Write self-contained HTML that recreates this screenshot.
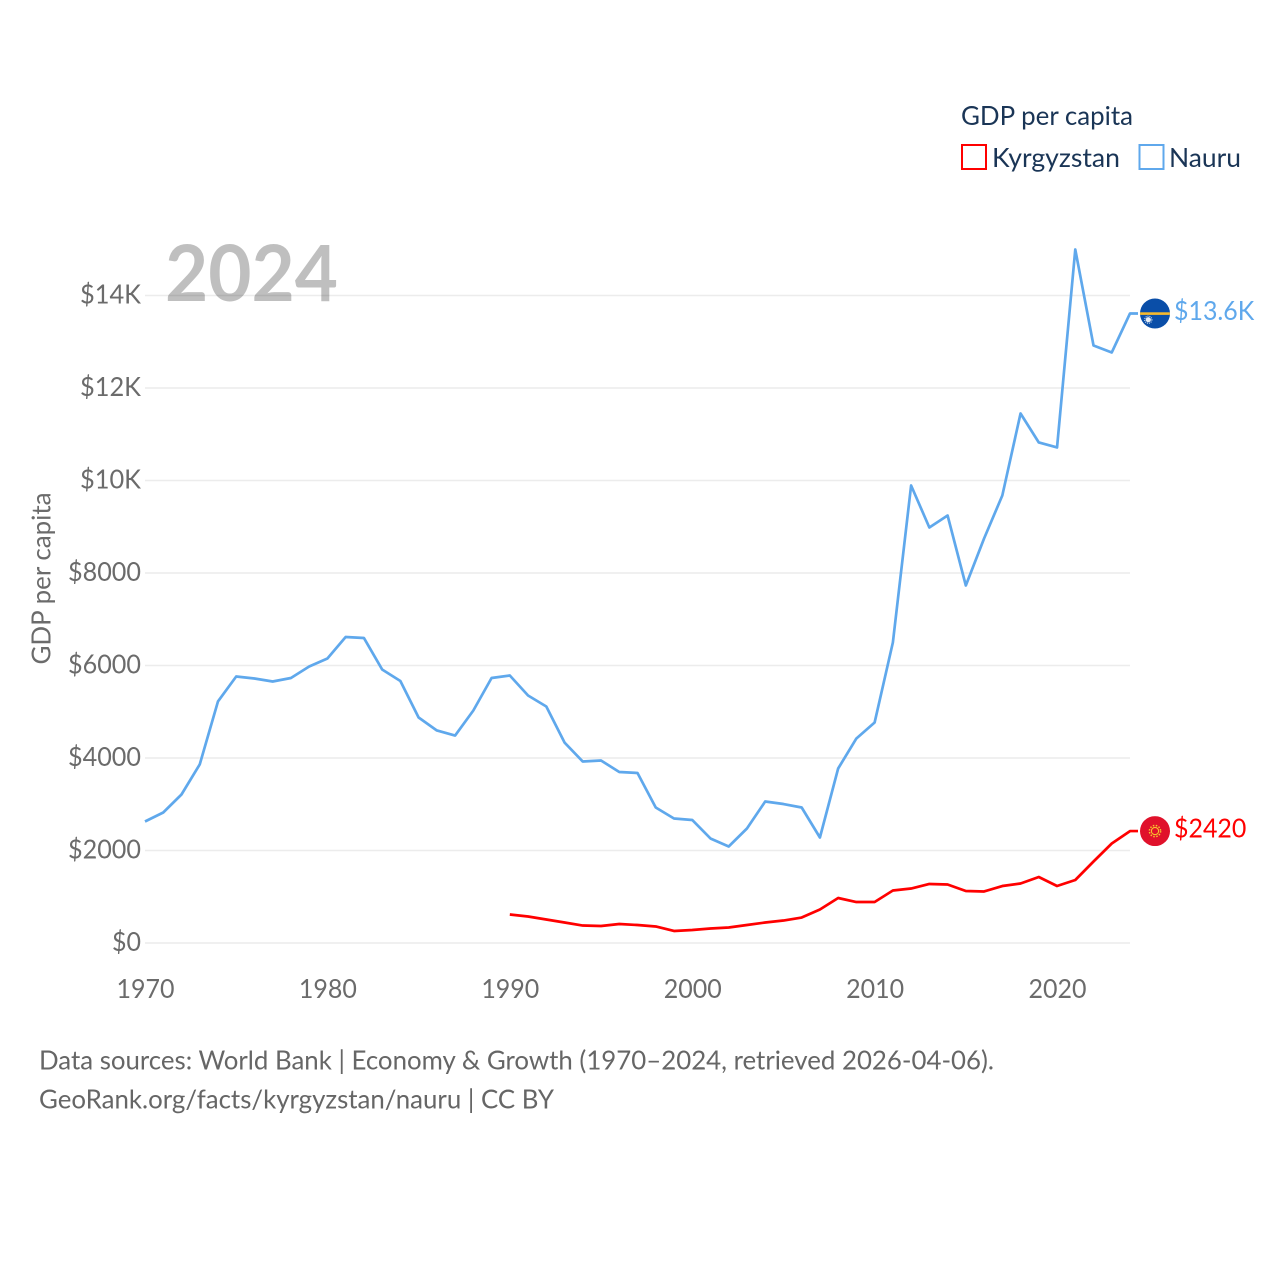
<!DOCTYPE html>
<html lang="en">
<head>
<meta charset="utf-8">
<title>GDP per capita: Kyrgyzstan and Nauru</title>
<style>
html,body{margin:0;padding:0;background:#fff;}
svg{display:block;font-family:"Lato","Carlito","Liberation Sans",sans-serif;}
</style>
</head>
<body>
<svg id="chart" xmlns="http://www.w3.org/2000/svg" width="1280" height="1280" viewBox="0 0 1280 1280">
  <rect x="0" y="0" width="1280" height="1280" fill="#ffffff"/>
  <defs>
    <clipPath id="flag-clip"><circle cx="0" cy="0" r="15"/></clipPath>
  </defs>
  <g id="grid"></g>
  <g id="y-ticks"></g>
  <g id="x-ticks"></g>
  <text transform="translate(50.5,578.5) rotate(-90)" text-anchor="middle" font-size="26" fill="#6b6b6b" textLength="172" lengthAdjust="spacingAndGlyphs">GDP per capita</text>
  <g id="series"></g>
  <text x="165" y="301" font-size="78" font-weight="700" fill="#000000" fill-opacity="0.25" textLength="173" lengthAdjust="spacingAndGlyphs">2024</text>

  <g>
    <text x="961" y="125" font-size="26" fill="#1a3556" textLength="172" lengthAdjust="spacingAndGlyphs">GDP per capita</text>
    <g>
      <rect x="962" y="145" width="24" height="24" fill="none" stroke="#ff0000" stroke-width="2"/>
      <text x="992" y="167" font-size="26" fill="#1a3556" textLength="128" lengthAdjust="spacingAndGlyphs">Kyrgyzstan</text>
    </g>
    <g>
      <rect x="1139.5" y="145" width="24" height="24" fill="none" stroke="#5fa8ec" stroke-width="2"/>
      <text x="1169" y="167" font-size="26" fill="#1a3556" textLength="72" lengthAdjust="spacingAndGlyphs">Nauru</text>
    </g>
  </g>

  <g id="flag-nauru">
    <g clip-path="url(#flag-clip)">
      <rect x="-15" y="-15" width="30" height="30" fill="#0a4ea8"/>
      <rect x="-15" y="-1.2" width="30" height="2.6" fill="#f5b92e"/>
      <circle cx="-6.7" cy="6.2" r="2.6" fill="#e8eef6"/>
      <circle cx="-6.7" cy="6.2" r="3.6" fill="none" stroke="#e8eef6" stroke-width="1" stroke-dasharray="1 1"/>
    </g>
  </g>
  <g id="flag-kyrgyzstan">
    <g clip-path="url(#flag-clip)">
      <rect x="-15" y="-15" width="30" height="30" fill="#e0112b"/>
      <circle cx="0" cy="0" r="3.6" fill="none" stroke="#f7c32e" stroke-width="1.1"/>
      <circle cx="0" cy="0" r="5.6" fill="none" stroke="#f7c32e" stroke-width="1.5" stroke-dasharray="1.5 1.5"/>
    </g>
  </g>
  <g id="end-labels"></g>

  <g>
    <text x="39" y="1069.5" font-size="26" fill="#666666" textLength="955" lengthAdjust="spacingAndGlyphs">Data sources: World Bank | Economy &amp; Growth (1970–2024, retrieved 2026-04-06).</text>
    <text x="39" y="1108.5" font-size="26" fill="#666666" textLength="515" lengthAdjust="spacingAndGlyphs">GeoRank.org/facts/kyrgyzstan/nauru | CC BY</text>
  </g>
</svg>
<script>
const years = [1970,1971,1972,1973,1974,1975,1976,1977,1978,1979,1980,1981,1982,1983,1984,1985,1986,1987,1988,1989,1990,1991,1992,1993,1994,1995,1996,1997,1998,1999,2000,2001,2002,2003,2004,2005,2006,2007,2008,2009,2010,2011,2012,2013,2014,2015,2016,2017,2018,2019,2020,2021,2022,2023,2024];
const nauruValues = [2627,2822,3211,3860,5222,5762,5719,5654,5730,5978,6151,6616,6595,5914,5665,4876,4595,4486,5027,5730,5784,5351,5114,4335,3924,3946,3697,3676,2930,2692,2660,2260,2086,2476,3059,3005,2930,2281,3773,4422,4768,6497,9892,8984,9243,7730,8746,9676,11449,10822,10714,14995,12919,12768,13611];
const kyrgyzstanValues = [null,null,null,null,null,null,null,null,null,null,null,null,null,null,null,null,null,null,null,null,616,573,508,443,378,368,411,389,357,260,281,314,335,389,443,486,551,724,973,886,886,1135,1178,1276,1265,1124,1114,1232,1286,1427,1232,1362,1762,2151,2420];
const yTickValues = [0,2000,4000,6000,8000,10000,12000,14000];
const yTickLabels = ["$0","$2000","$4000","$6000","$8000","$10K","$12K","$14K"];
const xTickValues = [1970,1980,1990,2000,2010,2020];
const xTickLabels = ["1970","1980","1990","2000","2010","2020"];

const SVG_NS = "http://www.w3.org/2000/svg";
const X0 = 145, X1 = 1130, Y0 = 943, Y14K = 295.5;
function xScale(year) { return X0 + (year - 1970) * (X1 - X0) / (2024 - 1970); }
function yScale(value) { return Y0 - value * (Y0 - Y14K) / 14000; }
function make(tag, attrs, text) {
  const el = document.createElementNS(SVG_NS, tag);
  for (const k in attrs) el.setAttribute(k, attrs[k]);
  if (text !== undefined) el.textContent = text;
  return el;
}
function formatValue(v) {
  return v >= 10000 ? "$" + (v / 1000).toFixed(1) + "K" : "$" + Math.round(v);
}

const gridG = document.getElementById("grid");
const yG = document.getElementById("y-ticks");
yTickValues.forEach(function (v, i) {
  const y = yScale(v);
  const line = make("line", {x1: X0, x2: X1, y1: y, y2: y, stroke: "#ececec", "stroke-width": 1.6});
  
  
  gridG.appendChild(line);
  const label = yTickLabels[i];
  const width = label.length === 2 ? 29 : (label.length === 4 ? 61 : 73);
  const t = make("text", {x: 141, y: y + 8, "text-anchor": "end", "font-size": 26, fill: "#6b6b6b", textLength: width, lengthAdjust: "spacingAndGlyphs"}, label);
  
  
  yG.appendChild(t);
});

const xG = document.getElementById("x-ticks");
xTickValues.forEach(function (v, i) {
  const t = make("text", {x: xScale(v) + 0.5, y: 998, "text-anchor": "middle", "font-size": 26, fill: "#6b6b6b", textLength: 58, lengthAdjust: "spacingAndGlyphs"}, xTickLabels[i]);
  
  
  xG.appendChild(t);
});

function drawSeries(values, color, lineName, flagId, labelName) {
  const pts = [];
  values.forEach(function (v, i) {
    if (v !== null) pts.push(xScale(years[i]).toFixed(2) + "," + yScale(v).toFixed(2));
  });
  const last = values[values.length - 1];
  const yEnd = yScale(last);
  pts.push("1138," + yEnd.toFixed(2));
  const line = make("polyline", {points: pts.join(" "), fill: "none", stroke: color, "stroke-width": 2.7, "stroke-linejoin": "round"});
  
  
  document.getElementById("series").appendChild(line);
  document.getElementById(flagId).setAttribute("transform", "translate(1155," + yEnd.toFixed(2) + ")");
  const label = make("text", {x: 1174, y: yEnd + 6.5, "font-size": 26, fill: color}, formatValue(last));
  
  
  document.getElementById("end-labels").appendChild(label);
  label.setAttribute("textLength", (label.getComputedTextLength() * 0.96).toFixed(1));
  label.setAttribute("lengthAdjust", "spacingAndGlyphs");
}
drawSeries(nauruValues, "#5fa8ec", "nauru-line", "flag-nauru", "nauru-end-label");
drawSeries(kyrgyzstanValues, "#ff0000", "kyrgyzstan-line", "flag-kyrgyzstan", "kyrgyzstan-end-label");
</script>
</body>
</html>
